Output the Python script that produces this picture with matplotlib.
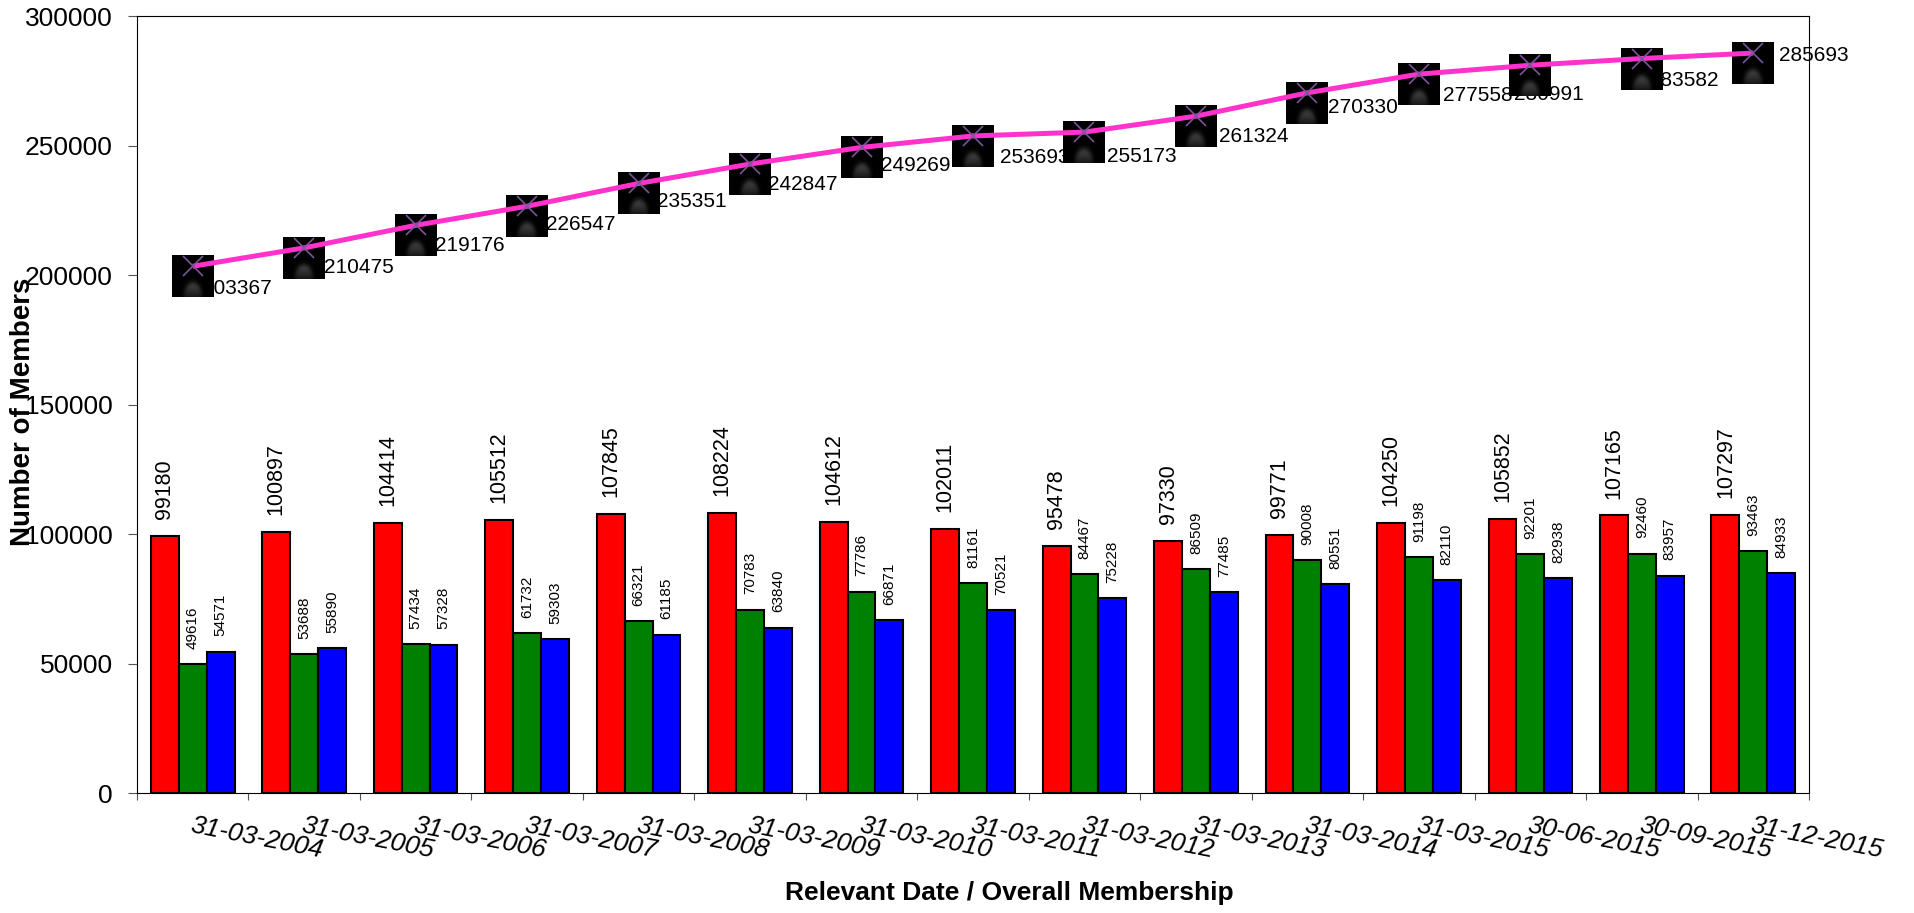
import numpy as np
import matplotlib
matplotlib.use("Agg")
import matplotlib.pyplot as plt
from matplotlib.offsetbox import OffsetImage, AnnotationBbox

# Membership figures per relevant date
dates = ["31-03-2004", "31-03-2005", "31-03-2006", "31-03-2007", "31-03-2008",
         "31-03-2009", "31-03-2010", "31-03-2011", "31-03-2012", "31-03-2013",
         "31-03-2014", "31-03-2015", "30-06-2015", "30-09-2015", "31-12-2015"]
group_red = [99180, 100897, 104414, 105512, 107845, 108224, 104612, 102011,
             95478, 97330, 99771, 104250, 105852, 107165, 107297]
group_green = [49616, 53688, 57434, 61732, 66321, 70783, 77786, 81161,
               84467, 86509, 90008, 91198, 92201, 92460, 93463]
group_blue = [54571, 55890, 57328, 59303, 61185, 63840, 66871, 70521,
              75228, 77485, 80551, 82110, 82938, 83957, 84933]
overall = [203367, 210475, 219176, 226547, 235351, 242847, 249269, 253693,
           255173, 261324, 270330, 277558, 280991, 283582, 285693]
y_ticks = [0, 50000, 100000, 150000, 200000, 250000, 300000]

# pixel offsets (dx, dy-down) of the overall-membership labels from each point
label_offsets = [(9, 22), (20, 20), (19, 20), (19, 18), (18, 18), (18, 20),
                 (19, 18), (27, 22), (23, 24), (23, 20), (21, 15), (24, 21),
                 (-16, 29), (7, 22), (26, 2)]

plt.rcParams['font.family'] = ['Liberation Sans', 'DejaVu Sans']

W, H = 1915, 913
fig = plt.figure(figsize=(W / 100, H / 100), dpi=100)
ax = fig.add_axes([137 / W, 1 - 793 / H, 1672 / W, 777 / H])

n = len(dates)
centers = np.arange(n) + 0.5
bw = 0.25

edge = dict(edgecolor='black', linewidth=1.5, zorder=2)
b_red = ax.bar(centers - bw, group_red, bw, color='#FF0000', **edge)
b_green = ax.bar(centers, group_green, bw, color='#008000', **edge)
b_blue = ax.bar(centers + bw, group_blue, bw, color='#0000FF', **edge)

ax.bar_label(b_red, fmt='{:.0f}', padding=12, rotation=90, fontsize=15.5)
ax.bar_label(b_green, fmt='{:.0f}', padding=11, rotation=90, fontsize=11)
ax.bar_label(b_blue, fmt='{:.0f}', padding=11, rotation=90, fontsize=11)

# marker tile: black square with a soft grey dome of light near the bottom
S = 42
yy, xx = np.mgrid[0:S, 0:S]
u = (xx + 0.5 - S / 2) / (S / 2)
v = (yy + 0.5) / S
r = np.sqrt((u / 0.55) ** 2 + ((v - 1.0) / 0.42) ** 2)
inside = 1.0 / (1.0 + np.exp((r - 0.78) / 0.09))
shade = np.clip(1.0 - 0.75 * (v - 0.6) / 0.4, 0.25, 1.0)
glow = np.clip(0.34 * inside * shade, 0, 1)
tile = np.zeros((S, S, 4))
tile[..., 0] = glow
tile[..., 1] = glow
tile[..., 2] = glow
tile[..., 3] = 1.0

for x, val in zip(centers, overall):
    ab = AnnotationBbox(OffsetImage(tile, zoom=1, dpi_cor=False), (x, val),
                        xycoords='data', xybox=(0, -7.2),
                        boxcoords='offset points', frameon=False, pad=0,
                        annotation_clip=False)
    ab.set_zorder(4)
    ax.add_artist(ab)

ax.plot(centers, overall, color='#FF33CC', lw=3.6, zorder=5,
        solid_capstyle='butt')
ax.plot(centers, overall, ls='none', marker='x', ms=14.4, mew=1.2,
        color='#7A559C', zorder=6)

for x, val, (dx, dy) in zip(centers, overall, label_offsets):
    ax.annotate(f"{val}", (x, val), xytext=(dx, -dy),
                textcoords='offset pixels', ha='left', va='center',
                fontsize=15, zorder=3, annotation_clip=False)

ax.set_xlim(0, n)
ax.set_ylim(0, 300000)

ax.set_xticks(np.arange(n + 1))
ax.tick_params(axis='x', which='major', labelbottom=False, length=5,
               width=0.8, color='#555555', direction='out')
ax.set_xticks(centers, dates, minor=True, rotation=-11, ha='left', va='top',
              rotation_mode='anchor', fontsize=19, style='italic')
ax.tick_params(axis='x', which='minor', length=0, pad=15)

ax.set_yticks(y_ticks, [str(t) for t in y_ticks])
ax.tick_params(axis='y', length=6.5, width=0.8, pad=10.8, labelsize=19,
               color='#555555', direction='out')

for sp in ax.spines.values():
    sp.set_linewidth(0.8)
    sp.set_color('black')

ax.set_xlabel('Relevant Date / Overall Membership', fontsize=19,
              fontweight='bold', va='center')
ax.xaxis.set_label_coords(0.5215, -0.1287)
ax.set_ylabel('Number of Members', fontsize=20, fontweight='bold',
              va='center')
ax.yaxis.set_label_coords(-0.068, 0.49)

fig.savefig('out.png', dpi=100)
